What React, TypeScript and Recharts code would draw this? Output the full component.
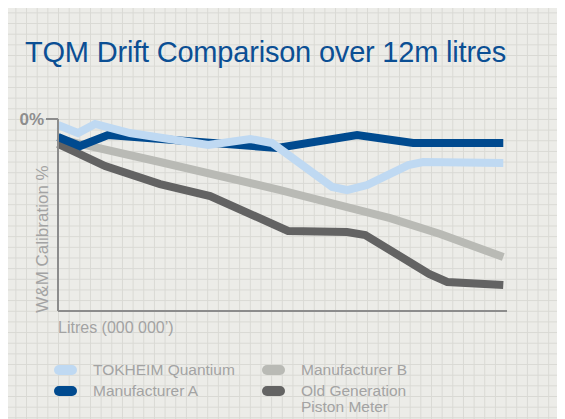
import { LineChart, Line, XAxis, YAxis, Label } from "recharts";

// litres in millions, drift in % (only 0% is labelled)
const tokheimLitres = [0, 0.54, 1.0, 1.94, 4.05, 5.18, 5.77, 7.39, 7.79, 8.33, 9.44, 9.84, 12];
const tokheimDrift = [-0.031, -0.073, -0.026, -0.073, -0.135, -0.104, -0.125, -0.354, -0.37, -0.344, -0.24, -0.224, -0.229];

const mfrALitres = [0, 0.59, 1.35, 5.91, 8.06, 9.57, 12];
const mfrADrift = [-0.094, -0.141, -0.083, -0.151, -0.083, -0.125, -0.125];

const mfrBLitres = [0, 2.75, 5.99, 8.95, 10.3, 12];
const mfrBDrift = [-0.104, -0.224, -0.37, -0.516, -0.599, -0.719];

const oldGenLitres = [0, 1.27, 2.75, 4.1, 6.2, 7.79, 8.28, 10.0, 10.49, 12];
const oldGenDrift = [-0.13, -0.245, -0.339, -0.401, -0.583, -0.589, -0.604, -0.807, -0.849, -0.865];

const yTicks = [0];

const FONT = '"Liberation Sans", Arial, Helvetica, sans-serif';
const TEXT_GREY = "#a3a3a3";

const toPoints = (xs: number[], ys: number[]) => xs.map((x, i) => ({ x, v: ys[i] }));

const series = [
  { key: "b", name: "Manufacturer B", color: "#b9bab5", data: toPoints(mfrBLitres, mfrBDrift) },
  { key: "old", name: "Old Generation\nPiston Meter", color: "#636363", data: toPoints(oldGenLitres, oldGenDrift) },
  { key: "a", name: "Manufacturer A", color: "#004a8f", data: toPoints(mfrALitres, mfrADrift) },
  { key: "tok", name: "TOKHEIM Quantium", color: "#bfd9f2", data: toPoints(tokheimLitres, tokheimDrift) },
];

// grid reads row by row: col 1 = tok, a ; col 2 = b, old
const legendOrder = ["tok", "b", "a", "old"];

const Legend = () => (
  <div style={{ position: "absolute", left: 48, top: 354, display: "grid", gridTemplateColumns: "208px 200px", rowGap: 5 }}>
    {legendOrder.map((k) => {
      const s = series.find((it) => it.key === k)!;
      return (
        <div key={s.key} style={{ display: "flex", alignItems: "flex-start" }}>
          <div style={{ width: 23, height: 10, borderRadius: 5, background: s.color, marginTop: 3, marginRight: 16, flexShrink: 0 }} />
          <div style={{ fontFamily: FONT, fontSize: 15.5, lineHeight: "16px", color: TEXT_GREY, whiteSpace: "pre" }}>{s.name}</div>
        </div>
      );
    })}
  </div>
);

export default function App() {
  return (
    <div
      style={{
        position: "relative",
        marginLeft: -2,
        width: 559,
        height: 411,
        backgroundColor: "#ecece8",
        backgroundImage:
          "linear-gradient(to right, #d9d9d4 1.2px, transparent 1.2px), linear-gradient(to bottom, #d9d9d4 1.2px, transparent 1.2px)",
        backgroundSize: "10.67px 10.67px",
        backgroundPosition: "9.4px 4.4px",
        overflow: "hidden",
      }}
    >
      <div
        style={{
          position: "absolute",
          left: 19,
          top: 28,
          fontFamily: FONT,
          fontSize: 29,
          letterSpacing: -0.2,
          color: "#0b4f94",
          whiteSpace: "nowrap",
        }}
      >
        TQM Drift Comparison over 12m litres
      </div>

      <LineChart width={559} height={411} margin={{ top: 111, right: 58, bottom: 88, left: 12 }}>
        <XAxis
          type="number"
          dataKey="x"
          domain={[0, 12.1]}
          height={20}
          tick={false}
          tickLine={false}
          axisLine={{ stroke: "#8c8c8c", strokeWidth: 2 }}
        >
          <Label
            content={({ viewBox }: any) => (
              <text x={viewBox.x} y={viewBox.y + 22} fill={TEXT_GREY} fontFamily={FONT} fontSize={16}>
                Litres (000 000’)
              </text>
            )}
          />
        </XAxis>
        <YAxis
          type="number"
          dataKey="v"
          domain={[-1, 0]}
          ticks={yTicks}
          width={40}
          tickSize={12}
          tickMargin={2}
          tickFormatter={(v: number) => `${v}%`}
          tick={{ fill: "#8e8e8e", fontFamily: FONT, fontSize: 17, fontWeight: 700 }}
          tickLine={{ stroke: "#8c8c8c", strokeWidth: 2 }}
          axisLine={{ stroke: "#8c8c8c", strokeWidth: 2 }}
        >
          <Label
            content={({ viewBox }: any) => {
              const cx = viewBox.x + viewBox.width - 16;
              const cy = viewBox.y + viewBox.height / 2 + 24;
              return (
                <text
                  x={cx}
                  y={cy}
                  transform={`rotate(-90 ${cx} ${cy})`}
                  textAnchor="middle"
                  dominantBaseline="central"
                  fill={TEXT_GREY}
                  fontFamily={FONT}
                  fontSize={17}
                >
                  W&amp;M Calibration %
                </text>
              );
            }}
          />
        </YAxis>
        {series.map((s) => (
          <Line
            key={s.key}
            data={s.data}
            dataKey="v"
            type="linear"
            stroke={s.color}
            strokeWidth={8}
            dot={false}
            activeDot={false}
            isAnimationActive={false}
          />
        ))}
      </LineChart>

      <Legend />
    </div>
  );
}
